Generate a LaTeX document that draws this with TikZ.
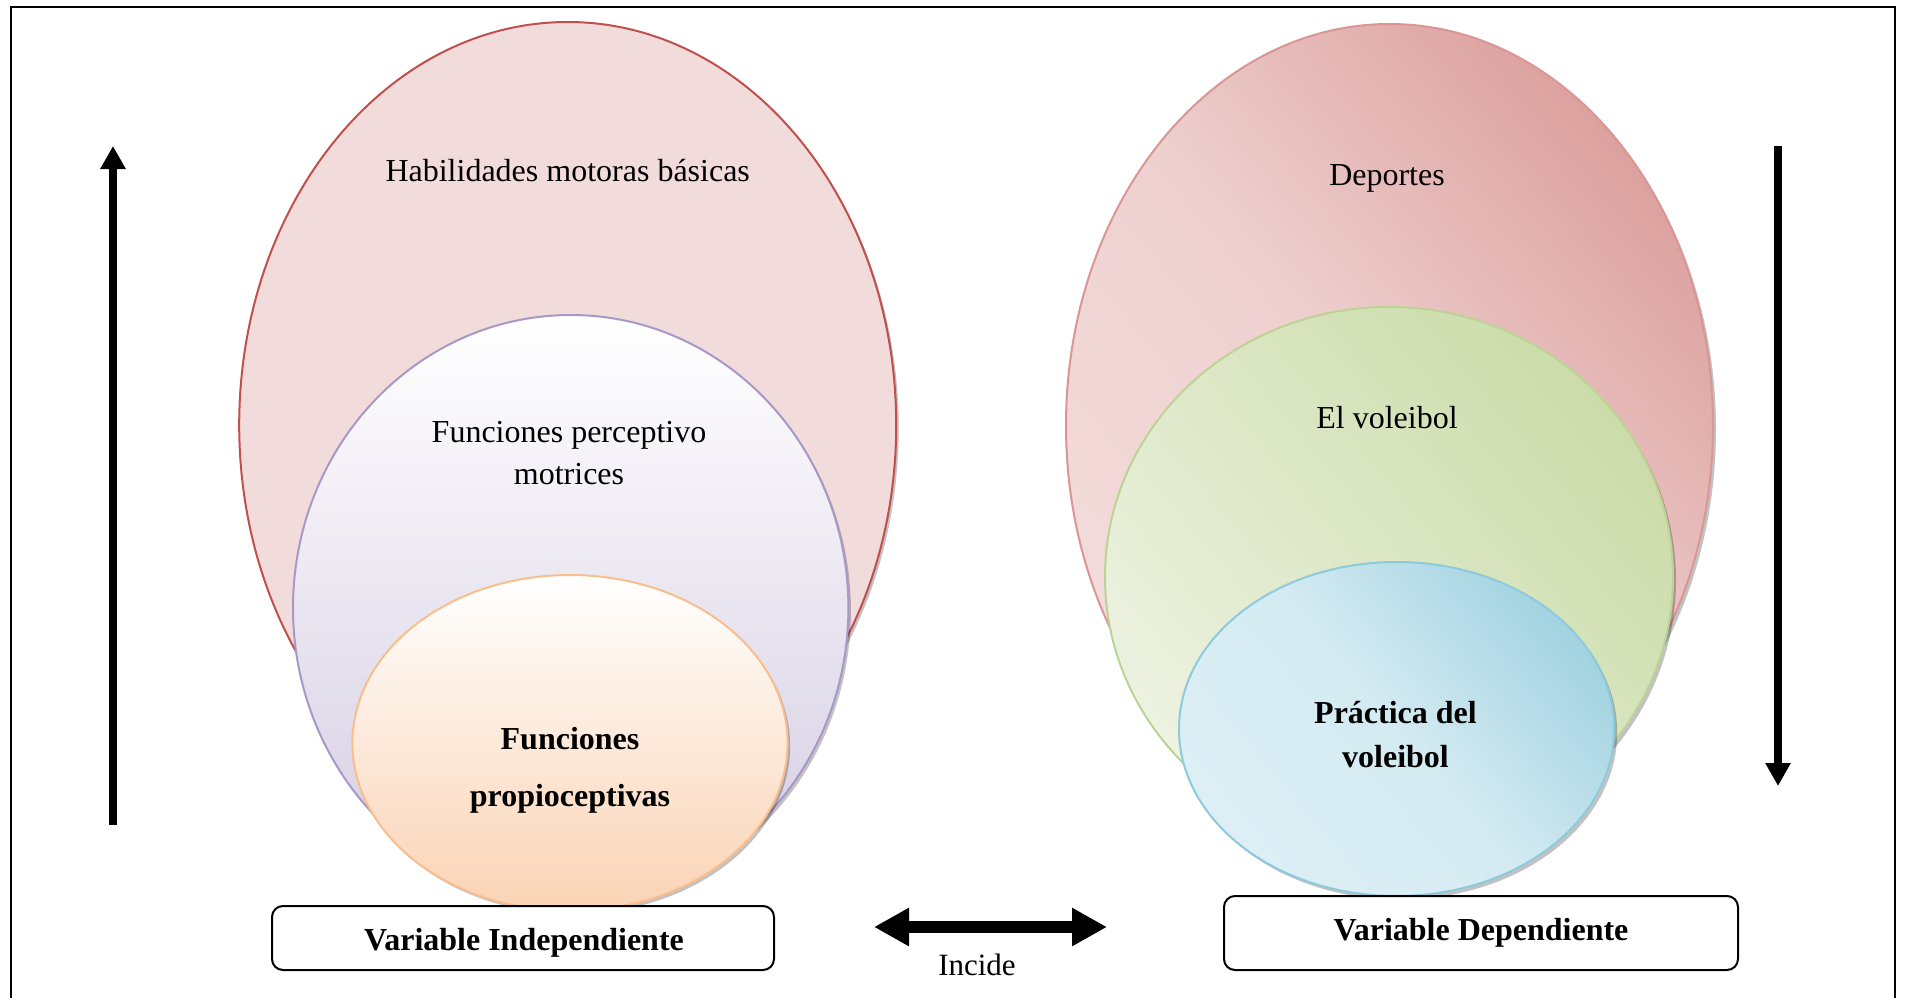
\documentclass[tikz,border=0pt]{standalone}
\usepackage{fontspec}
\setmainfont{Liberation Serif}
\usetikzlibrary{arrows.meta}
\definecolor{redfill}{HTML}{F2DCDB}
\definecolor{redline}{HTML}{C0504D}
\definecolor{purpbot}{HTML}{D4CCE2}
\definecolor{purpline}{HTML}{A898C8}
\definecolor{orbot}{HTML}{FAD3B4}
\definecolor{orline}{HTML}{F9BE8C}
\definecolor{pinklt}{HTML}{F2DCDB}
\definecolor{pinkdk}{HTML}{DCA19F}
\definecolor{pinkline}{HTML}{D99694}
\definecolor{greenlt}{HTML}{EDF2E1}
\definecolor{greendk}{HTML}{CBDCA9}
\definecolor{greenline}{HTML}{BDD396}
\definecolor{bluelt}{HTML}{DDEFF5}
\definecolor{bluedk}{HTML}{A3D3E1}
\definecolor{blueline}{HTML}{8DCADB}
\tikzset{
  shad/.style={fill=black, opacity=0.24},
  ell/.style={line width=2pt},
  box/.style={draw, line width=2pt, rounded corners=11pt, fill=white, inner sep=0pt,
    font=\fontsize{32}{38}\selectfont\bfseries},
  lbl/.style={align=center, inner sep=0pt, font=\fontsize{32}{42}\selectfont},
  blbl/.style={align=center, inner sep=0pt, font=\fontsize{32}{44}\selectfont\bfseries},
  vertarrow/.style={line width=8pt, -{Triangle[length=23pt,width=24pt]}},
  dblarrow/.style={line width=12pt, {Triangle[length=35pt,width=36pt]}-{Triangle[length=35pt,width=36pt]}}
}
\begin{document}
\begin{tikzpicture}[x=1pt,y=-1pt]
\useasboundingbox (0,0) rectangle (1906,998);
% frame
\draw[line width=2.5pt] (11,1010) -- (11,7) -- (1895,7) -- (1895,1010);

% ---------- left group ----------
\fill[shad] (570.2,428) ellipse [x radius=328.5pt, y radius=403pt];
\draw[ell, draw=redline, fill=redfill] (567.7,425) ellipse [x radius=328.5pt, y radius=403pt];
\fill[shad] (573.2,611) ellipse [x radius=277.7pt, y radius=293pt];
\draw[ell, draw=purpline, bottom color=purpbot, top color=white] (570.7,608) ellipse [x radius=277.7pt, y radius=293pt];
\fill[shad] (572.5,746) ellipse [x radius=217.6pt, y radius=168pt];
\draw[ell, draw=orline, bottom color=orbot, top color=white] (570,743) ellipse [x radius=217.6pt, y radius=168pt];

% ---------- right group ----------
\fill[shad] (1392.5,429) ellipse [x radius=323.5pt, y radius=401.5pt];
\draw[ell, draw=pinkline, bottom color=pinklt, top color=pinkdk, middle color=pinklt!80!pinkdk, shading angle=-50] (1389.5,425.5) ellipse [x radius=323.5pt, y radius=401.5pt];
\fill[shad] (1392,580.5) ellipse [x radius=284pt, y radius=270pt];
\draw[ell, draw=greenline, bottom color=greenlt, top color=greendk, shading angle=-50] (1389,577) ellipse [x radius=284pt, y radius=270pt];
\fill[shad] (1399.6,732.5) ellipse [x radius=217.6pt, y radius=167pt];
\draw[ell, draw=blueline, bottom color=bluelt, top color=bluedk, middle color=bluelt!85!bluedk, shading angle=-50] (1396.6,729) ellipse [x radius=217.6pt, y radius=167pt];

% ---------- labels ----------
\node[lbl] (hab) at (567.7,171) {Habilidades motoras básicas};
\node[lbl] (fpm) at (569,453) {Funciones perceptivo\\motrices};
\node[blbl, font=\fontsize{32}{57}\selectfont\bfseries] (fp) at (570,770) {Funciones\\propioceptivas};
\node[lbl] (dep) at (1387,178) {Deportes};
\node[lbl] (vol) at (1387,418) {El voleibol};
\node[blbl] (prac) at (1395.5,735) {Práctica del\\voleibol};

% ---------- boxes ----------
\node[box, minimum width=502pt, minimum height=64pt] (vi) at (523,938) {};
\node[box, draw=none, fill=none] (vitext) at (524,943) {Variable Independiente};
\node[box, minimum width=514pt, minimum height=74pt] (vd) at (1481,933) {Variable Dependiente};

% ---------- arrows ----------
\coordinate (ua1) at (113,825);
\coordinate (ua2) at (113,146);
\draw[vertarrow] (ua1) -- (ua2);
\coordinate (da1) at (1778,146);
\coordinate (da2) at (1778,786);
\draw[vertarrow] (da1) -- (da2);
\coordinate (ha1) at (874,927);
\coordinate (ha2) at (1107,927);
\draw[dblarrow] (ha1) -- (ha2);
\node[lbl, font=\fontsize{31}{36}\selectfont] (inc) at (977,965) {Incide};
\end{tikzpicture}
\end{document}
